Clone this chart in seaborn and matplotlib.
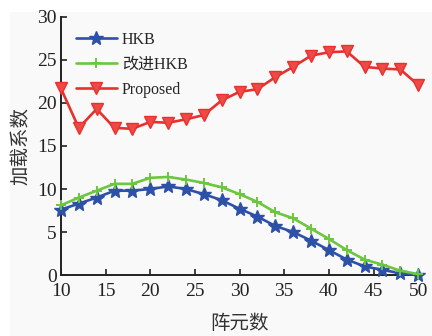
import matplotlib
matplotlib.use("Agg")
import matplotlib.pyplot as plt
import seaborn as sns
import pandas as pd
from matplotlib.patches import Rectangle

# Array sizes (number of elements)
elements = list(range(10, 51, 2))

# Loading factor for each method
hkb = [7.6, 8.3, 9.0, 9.8, 9.8, 10.0, 10.3, 10.0, 9.4, 8.7, 7.7,
       6.8, 5.7, 5.0, 4.0, 2.9, 1.8, 1.0, 0.6, 0.2, 0.0]
hkb_improved = [8.1, 9.0, 9.8, 10.6, 10.6, 11.3, 11.4, 11.1, 10.7, 10.2, 9.4,
                8.5, 7.3, 6.6, 5.4, 4.2, 2.9, 1.8, 1.2, 0.5, 0.1]
proposed = [21.7, 17.1, 19.3, 17.1, 17.0, 17.8, 17.7, 18.1, 18.6, 20.3, 21.3,
            21.6, 23.0, 24.2, 25.5, 25.9, 26.0, 24.2, 24.0, 23.9, 22.1]

series_names = ["HKB", "改进HKB", "Proposed"]
x_ticks = [10, 15, 20, 25, 30, 35, 40, 45, 50]
y_ticks = [0, 5, 10, 15, 20, 25, 30]

sns.set_theme(style="ticks")
plt.rcParams["font.family"] = ["Liberation Serif", "Noto Sans CJK SC", "DejaVu Sans"]

df = pd.DataFrame({
    "阵元数": elements * 3,
    "加载系数": hkb + hkb_improved + proposed,
    "method": [series_names[0]] * len(elements)
              + [series_names[1]] * len(elements)
              + [series_names[2]] * len(elements),
})

fig = plt.figure(figsize=(4.32, 3.36), dpi=100, facecolor="white")
fig.patches.append(Rectangle((10 / 432, 0), 1, (336 - 12) / 336,
                             transform=fig.transFigure, facecolor="#f9f9f9",
                             edgecolor="none", zorder=-10))
ax = fig.add_axes([0.141, 0.1815, 0.827, 0.768])
ax.set_zorder(1)
ax.set_facecolor("none")

styles = {
    "HKB": dict(color="#2d50a8", marker="*", markersize=10),
    "改进HKB": dict(color="#6cc63f", marker="+", markersize=7, markeredgewidth=1.4),
    "Proposed": dict(color="#e8302e", marker="v", markersize=8,
                     markerfacecolor="#ee4a45"),
}
for name in series_names:
    st = styles[name]
    sns.lineplot(data=df[df["method"] == name], x="阵元数", y="加载系数",
                 ax=ax, label=name, linewidth=1.9, color=st["color"],
                 marker=st["marker"], markersize=st["markersize"],
                 markeredgecolor=st["color"],
                 markerfacecolor=st.get("markerfacecolor", st["color"]),
                 markeredgewidth=st.get("markeredgewidth", 1.0),
                 clip_on=False, zorder=3)

ax.set_xlim(10, 50)
ax.set_ylim(0, 30)
ax.set_xticks(x_ticks)
ax.set_yticks(y_ticks)
ax.tick_params(direction="in", length=4, width=1.2, labelsize=14,
               colors="#222222")
ax.tick_params(axis="x", pad=6)
ax.tick_params(axis="y", pad=3)
for s in ["top", "right"]:
    ax.spines[s].set_visible(False)
for s in ["left", "bottom"]:
    ax.spines[s].set_linewidth(1.4)
    ax.spines[s].set_color("#222222")

ax.set_xlabel("阵元数", fontsize=14, family=["Noto Sans CJK SC"], color="#333333", labelpad=9)
ax.set_ylabel("加载系数", fontsize=14, family=["Noto Sans CJK SC"], color="#333333", labelpad=4)

leg = ax.legend(loc="upper left", frameon=False, fontsize=11.5, handlelength=2.6,
                borderaxespad=0.3, labelspacing=0.55, handletextpad=0.3,
                bbox_to_anchor=(0.01, 0.985))

fig.savefig("out.png", dpi=100, facecolor=fig.get_facecolor())
